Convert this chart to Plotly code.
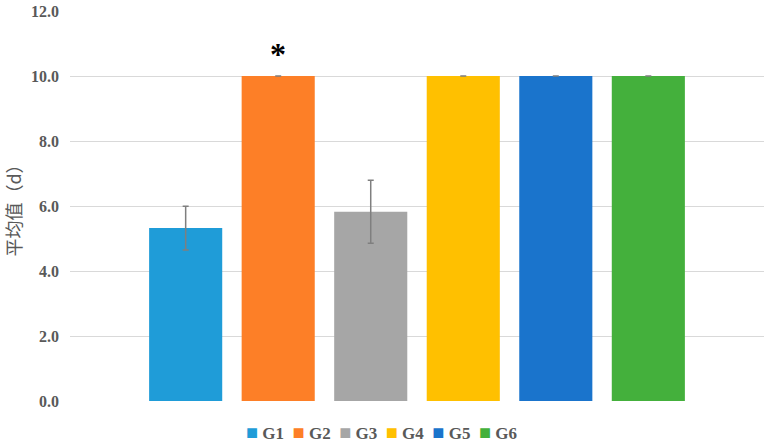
import plotly.graph_objects as go

groups = ["G1", "G2", "G3", "G4", "G5", "G6"]
means = [5.32, 10.0, 5.82, 10.0, 10.0, 10.0]
errors = [0.67, 0.0, 0.97, 0.0, 0.0, 0.0]
colors = ["#1f9cd8", "#fd7f27", "#a6a6a6", "#ffc000", "#1a74cc", "#44b03c"]
yticks = [0, 2, 4, 6, 8, 10, 12]

fig = go.Figure()
for i, g in enumerate(groups):
    fig.add_trace(go.Bar(
        x=[i], y=[means[i]], name=g,
        marker=dict(color=colors[i], line=dict(width=0)),
        width=0.79,
        error_y=dict(type="data", array=[errors[i]], visible=True,
                     color="#7f7f7f", thickness=1.5, width=3),
    ))

# significance marker above G2
fig.add_annotation(x=1, y=means[1], yshift=22, text="<b>*</b>", showarrow=False,
                   yanchor="middle",
                   font=dict(family="Liberation Serif", size=32, color="#000000"))

# legend row (built from groups / colors)
legend_text = "&nbsp;&nbsp;".join(
    f'<span style="color:{c};font-size:20px">■</span>&nbsp;<b>{g}</b>' for g, c in zip(groups, colors)
)
fig.add_annotation(xref="paper", yref="paper", x=(381 - 70) / 694, y=-(444 - 401) / 392,
                   xanchor="center", yanchor="bottom", showarrow=False, text=legend_text,
                   borderpad=0,
                   font=dict(family="Liberation Serif", size=17, color="#595959"))

fig.update_layout(
    width=767, height=445,
    margin=dict(l=70, r=3, t=9, b=44),
    paper_bgcolor="white", plot_bgcolor="white",
    barmode="overlay",
    showlegend=False,
    xaxis=dict(range=[-1.25, 6.25], showticklabels=False, showgrid=False,
               zeroline=False, showline=False),
    yaxis=dict(range=[0, 12], tickvals=yticks, tickformat=".1f",
               showgrid=True, gridcolor="#d9d9d9", gridwidth=1,
               zeroline=False, showline=False, ticks="",
               ticklabelstandoff=10,
               tickfont=dict(family="Liberation Serif", size=16, color="#595959", weight="bold"),
               title=dict(text="平均值（d）", standoff=7,
                          font=dict(family="Noto Sans CJK SC", size=18, color="#595959"))),
)

fig.write_html("out.html")
